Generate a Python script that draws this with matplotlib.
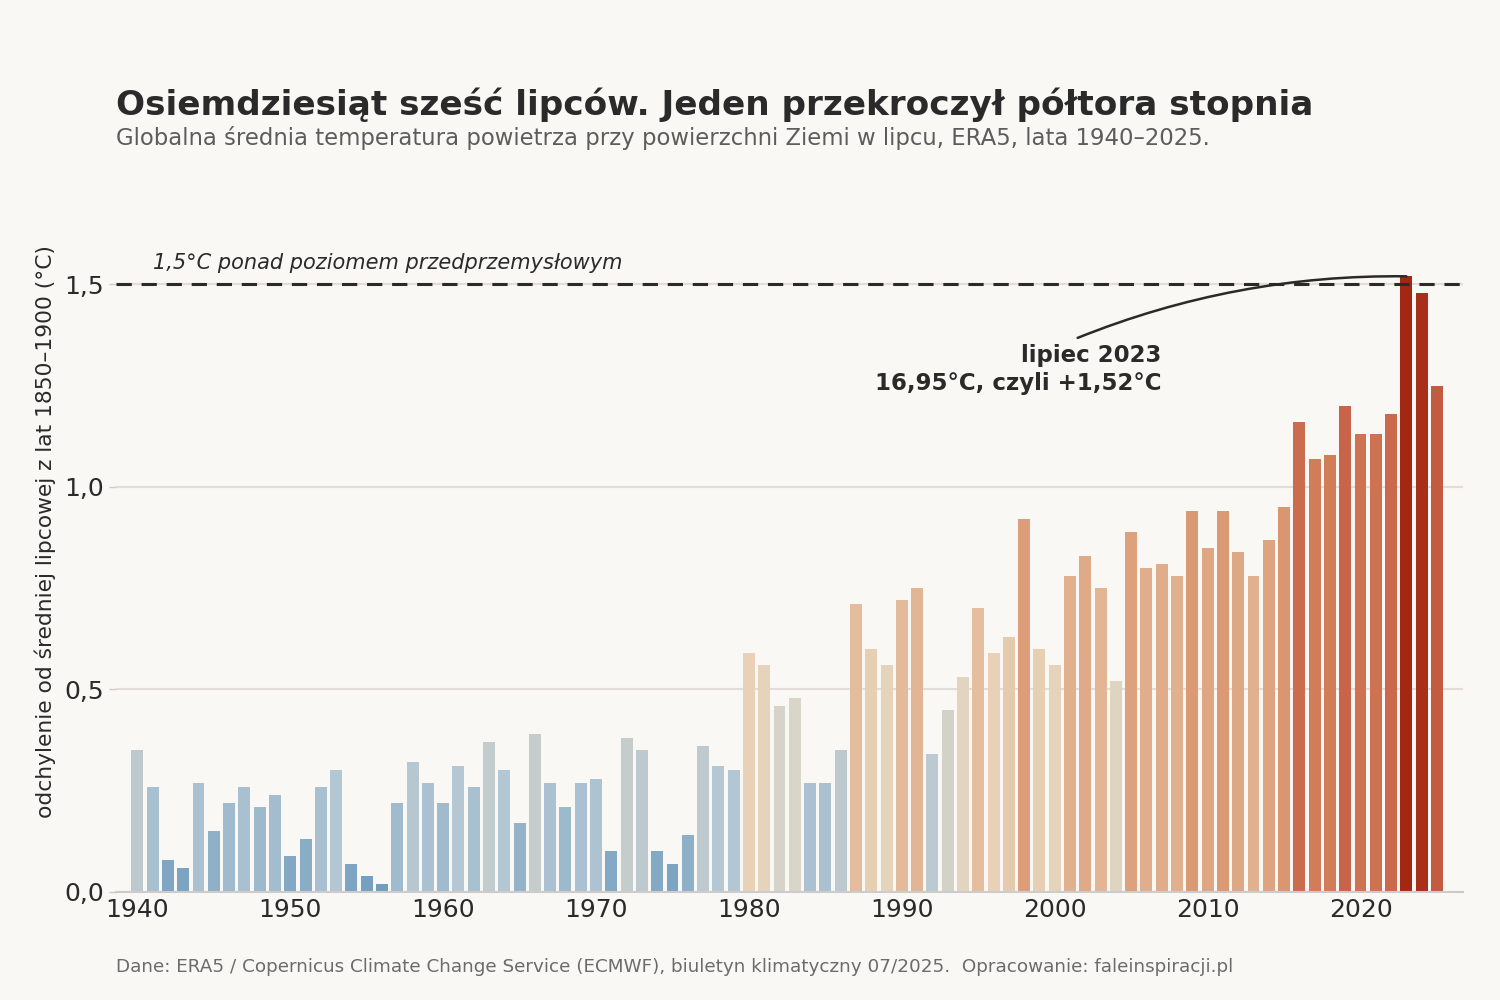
import matplotlib
matplotlib.use("Agg")
import matplotlib.pyplot as plt
from matplotlib.colors import LinearSegmentedColormap, Normalize

# ---------------------------------------------------------------------------
# Data: July anomaly vs 1850-1900 (°C), ERA5
# ---------------------------------------------------------------------------
years = list(range(1940, 2026))
anomaly = [
    0.35, 0.26, 0.08, 0.06, 0.27, 0.15, 0.22, 0.26, 0.21, 0.24,  # 1940s
    0.09, 0.13, 0.26, 0.30, 0.07, 0.04, 0.02, 0.22, 0.32, 0.27,  # 1950s
    0.22, 0.31, 0.26, 0.37, 0.30, 0.17, 0.39, 0.27, 0.21, 0.27,  # 1960s
    0.28, 0.10, 0.38, 0.35, 0.10, 0.07, 0.14, 0.36, 0.31, 0.30,  # 1970s
    0.59, 0.56, 0.46, 0.48, 0.27, 0.27, 0.35, 0.71, 0.60, 0.56,  # 1980s
    0.72, 0.75, 0.34, 0.45, 0.53, 0.70, 0.59, 0.63, 0.92, 0.60,  # 1990s
    0.56, 0.78, 0.83, 0.75, 0.52, 0.89, 0.80, 0.81, 0.78, 0.94,  # 2000s
    0.85, 0.94, 0.84, 0.78, 0.87, 0.95, 1.16, 1.07, 1.08, 1.20,  # 2010s
    1.13, 1.13, 1.18, 1.52, 1.48, 1.25,                          # 2020s
]
threshold = 1.5
record_year = 2023

TITLE = "Osiemdziesiąt sześć lipców. Jeden przekroczył półtora stopnia"
SUBTITLE = "Globalna średnia temperatura powietrza przy powierzchni Ziemi w lipcu, ERA5, lata 1940–2025."
SOURCE = ("Dane: ERA5 / Copernicus Climate Change Service (ECMWF), biuletyn klimatyczny 07/2025.  "
          "Opracowanie: faleinspiracji.pl")

# ---------------------------------------------------------------------------
# Style
# ---------------------------------------------------------------------------
BG = "#f9f8f5"
INK = "#2a2a2a"

plt.rcParams.update({
    "font.family": ["DejaVu Sans"],
    "figure.facecolor": BG,
    "axes.facecolor": BG,
    "text.color": INK,
})

cmap = LinearSegmentedColormap.from_list("july", [
    (0.00, "#6e9bbd"),
    (0.30 / 1.52, "#b2c6d3"),
    (0.40 / 1.52, "#c9cdcb"),
    (0.48 / 1.52, "#dad5c8"),
    (0.58 / 1.52, "#e8d3b9"),
    (0.75 / 1.52, "#e2b594"),
    (0.93 / 1.52, "#dc9b76"),
    (1.08 / 1.52, "#d27c58"),
    (1.20 / 1.52, "#c8654a"),
    (1.35 / 1.52, "#b9492f"),
    (1.00, "#a32813"),
])
norm = Normalize(vmin=0.0, vmax=1.52)
colors = [cmap(norm(v)) for v in anomaly]

fig = plt.figure(figsize=(15, 10), dpi=100)
ax = fig.add_axes([0.0773, 0.108, 0.898, 0.721])

ax.bar(years, anomaly, width=0.78, color=colors, zorder=2)

ax.axhline(threshold, color=INK, lw=2.2, ls=(0, (5, 3.2)), zorder=3)
ax.text(1941, threshold + 0.028, "1,5°C ponad poziomem przedprzemysłowym",
        fontsize=15, style="italic", color=INK, va="bottom", ha="left")

rec_val = anomaly[years.index(record_year)]
ax.annotate("", xy=(record_year, rec_val), xytext=(2001.5, 1.368),
            arrowprops=dict(arrowstyle="-", color=INK, lw=1.8,
                            connectionstyle="arc3,rad=-0.1",
                            shrinkA=0, shrinkB=0), zorder=4)
ax.text(2007.0, 1.29, "lipiec 2023\n16,95°C, czyli +1,52°C",
        fontsize=16.5, fontweight="bold", color=INK, ha="right", va="center",
        linespacing=1.3)

ax.set_xlim(1938.6, 2026.7)
ax.set_ylim(0, 1.78)
ax.set_yticks([0, 0.5, 1.0, 1.5])
ax.set_yticklabels(["0,0", "0,5", "1,0", "1,5"])
ax.set_xticks(range(1940, 2030, 10))
ax.tick_params(axis="both", labelsize=18, colors=INK, length=5, width=1)
ax.tick_params(axis="x", length=0, pad=4)
ax.tick_params(axis="y", color="#cccccc")
ax.grid(axis="y", color="#e2ddd8", lw=1.5, zorder=0)
ax.set_axisbelow(True)
for s in ("top", "right", "left"):
    ax.spines[s].set_visible(False)
ax.spines["bottom"].set_color("#cccccc")
ax.spines["bottom"].set_linewidth(1.5)

ax.set_ylabel("odchylenie od średniej lipcowej z lat 1850–1900 (°C)",
              fontsize=15.7, color=INK, labelpad=6)

fig.text(0.0773, 0.895, TITLE, fontsize=24.7, fontweight="bold", color=INK,
         ha="left", va="center")
fig.text(0.0773, 0.862, SUBTITLE, fontsize=16.4, color="#5c5c5c",
         ha="left", va="center")
fig.text(0.0773, 0.033, SOURCE, fontsize=13.25, color="#6b6b6b",
         ha="left", va="center")

fig.savefig("out.png", dpi=100, facecolor=BG)
